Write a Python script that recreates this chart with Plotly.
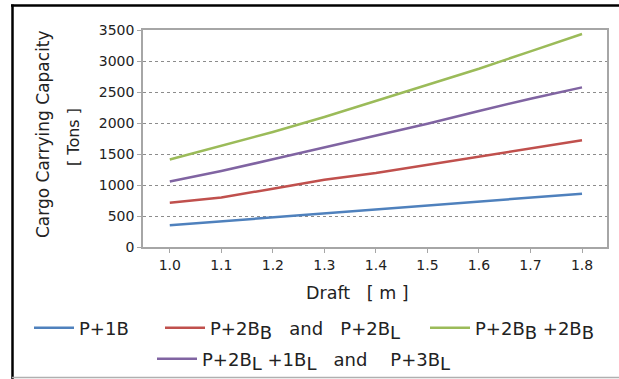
import plotly.graph_objects as go

draft = [1.0, 1.1, 1.2, 1.3, 1.4, 1.5, 1.6, 1.7, 1.8]
p1b = [350, 414, 484, 548, 610, 672, 742, 806, 860]
p2b = [712, 800, 940, 1085, 1195, 1328, 1462, 1597, 1722]
p2bb2bb = [1410, 1629, 1855, 2097, 2355, 2618, 2876, 3156, 3435]
p2bl1bl = [1055, 1226, 1414, 1605, 1790, 1989, 2194, 2392, 2575]

FONT = "DejaVu Sans"
TXT = "#222222"
LEGSIZE = 18
NB = "\u00a0"

def sub(s):
    return f"<sub><span style='font-size:{LEGSIZE}px'>{s}</span></sub>"

names = ["P+1B",
         f"P+2B{sub('B')}{NB*2} and{NB*2} P+2B{sub('L')}",
         f"P+2B{sub('B')} +2B{sub('B')}",
         f"P+2B{sub('L')} +1B{sub('L')}{NB*2} and{NB*3} P+3B{sub('L')}"]
colors = ["#4F81BD", "#C0504D", "#9BBB59", "#8064A2"]
series = [p1b, p2b, p2bb2bb, p2bl1bl]
legends = ["legend", "legend2", "legend3", "legend4"]

# pixel geometry helpers
L, R, T, B = 143, 607, 30, 247
W, H = R - L, B - T
def px(x):
    return (x - L) / W
def py(y):
    return (B - y) / H

fig = go.Figure()
for vals, nm, c, lg in zip(series, names, colors, legends):
    fig.add_trace(go.Scatter(x=draft, y=vals, mode="lines", name=nm,
                             line=dict(color=c, width=2.5), legend=lg))

leg_common = dict(orientation="h", font=dict(family=FONT, size=LEGSIZE, color=TXT),
                  bgcolor="rgba(0,0,0,0)", yanchor="middle", xanchor="left",
                  itemwidth=40, tracegroupgap=0)

fig.update_layout(
    width=619, height=379,
    margin=dict(l=L, r=619 - R, t=T, b=379 - B, autoexpand=False),
    paper_bgcolor="white", plot_bgcolor="white",
    font=dict(family=FONT, color=TXT),
    xaxis=dict(range=[0.948, 1.8485], tickmode="array", tickvals=draft,
               ticktext=[f"{d:.1f}" for d in draft],
               tickfont=dict(family=FONT, size=14, color=TXT),
               showgrid=False, zeroline=False,
               showline=True, linecolor="#a6a6a6", linewidth=1.5, mirror=True,
               ticks="outside", ticklen=4, tickcolor="#a6a6a6"),
    yaxis=dict(range=[0, 3500], dtick=500, tick0=0,
               tickfont=dict(family=FONT, size=14, color=TXT),
               showgrid=True, gridcolor="#8c8c8c", griddash="dot", gridwidth=1,
               zeroline=False,
               showline=True, linecolor="#a6a6a6", linewidth=1.5, mirror=True,
               ticks="outside", ticklen=4, tickcolor="#a6a6a6"),
    legend=dict(x=px(29), y=py(328), **leg_common),
    legend2=dict(x=px(160), y=py(328), **leg_common),
    legend3=dict(x=px(425), y=py(328), **leg_common),
    legend4=dict(x=px(152), y=py(359), **leg_common),
    showlegend=True,
)

fig.add_annotation(text="Cargo Carrying Capacity", xref="paper", yref="paper",
                   x=px(43), y=py(134), textangle=-90, showarrow=False,
                   font=dict(family=FONT, size=17, color=TXT),
                   xanchor="center", yanchor="middle")
fig.add_annotation(text="[ Tons ]", xref="paper", yref="paper",
                   x=px(73), y=py(137), textangle=-90, showarrow=False,
                   font=dict(family=FONT, size=16, color=TXT),
                   xanchor="center", yanchor="middle")
fig.add_annotation(text=f"Draft{NB*2} [ m ]", xref="paper", yref="paper",
                   x=px(357), y=py(293), showarrow=False,
                   font=dict(family=FONT, size=17.5, color=TXT),
                   xanchor="center", yanchor="middle")

# outer frame
fig.add_shape(type="line", xref="paper", yref="paper",
              x0=px(11), x1=px(619), y0=py(5.5), y1=py(5.5),
              line=dict(color="black", width=2.5))
fig.add_shape(type="line", xref="paper", yref="paper",
              x0=px(12.5), x1=px(12.5), y0=py(4.5), y1=py(379),
              line=dict(color="black", width=2.5))
fig.add_shape(type="line", xref="paper", yref="paper",
              x0=px(12), x1=px(619), y0=py(377.5), y1=py(377.5),
              line=dict(color="#b0b0b0", width=1.5))

fig.write_html("out.html", config={"displayModeBar": False},
               post_script="document.body.style.margin='0';document.body.style.overflow='hidden';")
